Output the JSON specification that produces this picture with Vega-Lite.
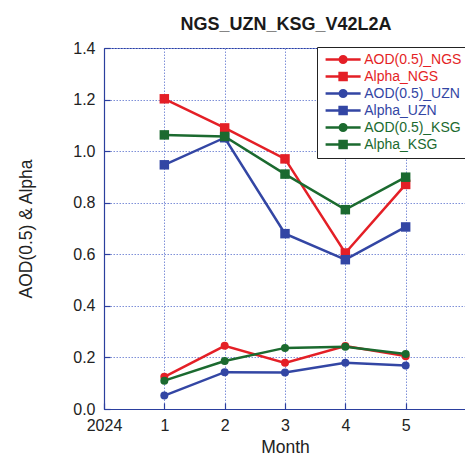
{
  "$schema": "https://vega.github.io/schema/vega-lite/v6.json",
  "autosize": {"type": "none"},
  "padding": {"left": 104, "top": 48, "right": 0, "bottom": 48},
  "width": 362,
  "height": 361,
  "background": "white",
  "title": {"text": "NGS_UZN_KSG_V42L2A", "font": "Liberation Sans", "fontSize": 18, "fontWeight": "bold", "color": "#1a1a1a", "offset": 6, "dx": 1},
  "config": {
    "view": {"stroke": "#2b3f9e", "strokeWidth": 1},
    "axis": {
      "labelFont": "Liberation Sans", "labelFontSize": 16, "labelColor": "#222222",
      "titleFont": "Liberation Sans", "titleFontSize": 17.5, "titleFontWeight": "normal", "titleColor": "#222222",
      "domainColor": "#2b3f9e", "domainWidth": 1.2,
      "tickColor": "#2b3f9e", "tickSize": -6, "tickWidth": 1.2,
      "gridColor": "#7f90d8", "gridDash": [1.5, 1.5], "gridWidth": 1, "gridOpacity": 1
    }
  },
  "data": {"values": [
    {"month": 1, "series": "AOD(0.5)_NGS", "type": "AOD", "value": 0.125},
    {"month": 2, "series": "AOD(0.5)_NGS", "type": "AOD", "value": 0.245},
    {"month": 3, "series": "AOD(0.5)_NGS", "type": "AOD", "value": 0.179},
    {"month": 4, "series": "AOD(0.5)_NGS", "type": "AOD", "value": 0.244},
    {"month": 5, "series": "AOD(0.5)_NGS", "type": "AOD", "value": 0.205},
    {"month": 1, "series": "Alpha_NGS", "type": "Alpha", "value": 1.203},
    {"month": 2, "series": "Alpha_NGS", "type": "Alpha", "value": 1.09},
    {"month": 3, "series": "Alpha_NGS", "type": "Alpha", "value": 0.97},
    {"month": 4, "series": "Alpha_NGS", "type": "Alpha", "value": 0.605},
    {"month": 5, "series": "Alpha_NGS", "type": "Alpha", "value": 0.871},
    {"month": 1, "series": "AOD(0.5)_UZN", "type": "AOD", "value": 0.052},
    {"month": 2, "series": "AOD(0.5)_UZN", "type": "AOD", "value": 0.143},
    {"month": 3, "series": "AOD(0.5)_UZN", "type": "AOD", "value": 0.142},
    {"month": 4, "series": "AOD(0.5)_UZN", "type": "AOD", "value": 0.179},
    {"month": 5, "series": "AOD(0.5)_UZN", "type": "AOD", "value": 0.169},
    {"month": 1, "series": "Alpha_UZN", "type": "Alpha", "value": 0.947},
    {"month": 2, "series": "Alpha_UZN", "type": "Alpha", "value": 1.052},
    {"month": 3, "series": "Alpha_UZN", "type": "Alpha", "value": 0.68},
    {"month": 4, "series": "Alpha_UZN", "type": "Alpha", "value": 0.579},
    {"month": 5, "series": "Alpha_UZN", "type": "Alpha", "value": 0.706},
    {"month": 1, "series": "AOD(0.5)_KSG", "type": "AOD", "value": 0.11},
    {"month": 2, "series": "AOD(0.5)_KSG", "type": "AOD", "value": 0.186},
    {"month": 3, "series": "AOD(0.5)_KSG", "type": "AOD", "value": 0.237},
    {"month": 4, "series": "AOD(0.5)_KSG", "type": "AOD", "value": 0.241},
    {"month": 5, "series": "AOD(0.5)_KSG", "type": "AOD", "value": 0.213},
    {"month": 1, "series": "Alpha_KSG", "type": "Alpha", "value": 1.063},
    {"month": 2, "series": "Alpha_KSG", "type": "Alpha", "value": 1.057},
    {"month": 3, "series": "Alpha_KSG", "type": "Alpha", "value": 0.911},
    {"month": 4, "series": "Alpha_KSG", "type": "Alpha", "value": 0.773},
    {"month": 5, "series": "Alpha_KSG", "type": "Alpha", "value": 0.899}
  ]},
  "encoding": {
    "x": {"field": "month", "type": "quantitative", "title": "Month",
      "scale": {"domain": [0, 6], "nice": false, "zero": false},
      "axis": {"values": [0, 1, 2, 3, 4, 5], "labelExpr": "datum.value == 0 ? '2024' : datum.label", "labelPadding": 14, "titlePadding": 5, "labelFlush": false}},
    "y": {"field": "value", "type": "quantitative", "title": "AOD(0.5) & Alpha",
      "scale": {"domain": [0, 1.4], "nice": false},
      "axis": {"values": [0, 0.2, 0.4, 0.6, 0.8, 1.0, 1.2, 1.4], "format": ".1f", "labelPadding": 15, "titlePadding": 37, "labelFlush": false}},
    "color": {"field": "series", "type": "nominal",
      "scale": {"domain": ["AOD(0.5)_NGS", "Alpha_NGS", "AOD(0.5)_UZN", "Alpha_UZN", "AOD(0.5)_KSG", "Alpha_KSG"],
        "range": ["#e41f26", "#e41f26", "#3346a4", "#3346a4", "#1b6a2f", "#1b6a2f"]}}
  },
  "layer": [
    {"mark": {"type": "line", "strokeWidth": 2.5},
     "encoding": {
       "color": {"field": "series", "type": "nominal",
         "legend": {
           "orient": "none", "legendX": 213, "legendY": -1, "title": null,
           "strokeColor": "#222222", "fillColor": "white", "padding": 5, "cornerRadius": 0,
           "labelFont": "Liberation Sans", "labelFontSize": 14, "labelLimit": 300,
           "symbolSize": 150, "symbolStrokeWidth": 2.5, "symbolOffset": 13.6, "labelOffset": 13.6, "rowPadding": 0,
           "encode": {
             "labels": {"update": {"fill": {"scale": "color", "field": "value"}}},
             "symbols": {"update": {
               "shape": {"signal": "indexof(datum.value, 'AOD') == 0 ? 'M-2.86,0H2.86M0.54,0A0.54,0.54,0,1,1,-0.54,0A0.54,0.54,0,1,1,0.54,0Z' : 'M-2.86,0H2.86M-0.57,-0.57H0.57V0.57H-0.57Z'"},
               "fill": {"scale": "color", "field": "value"},
               "stroke": {"scale": "color", "field": "value"},
               "opacity": {"value": 1}
             }}
           }
         }}
     }},
    {"mark": {"type": "point", "filled": true, "opacity": 1},
     "encoding": {
       "shape": {"field": "type", "type": "nominal", "scale": {"domain": ["AOD", "Alpha"], "range": ["circle", "square"]}, "legend": null},
       "size": {"field": "type", "type": "nominal", "scale": {"domain": ["AOD", "Alpha"], "range": [64, 90]}, "legend": null}
     }}
  ]
}
